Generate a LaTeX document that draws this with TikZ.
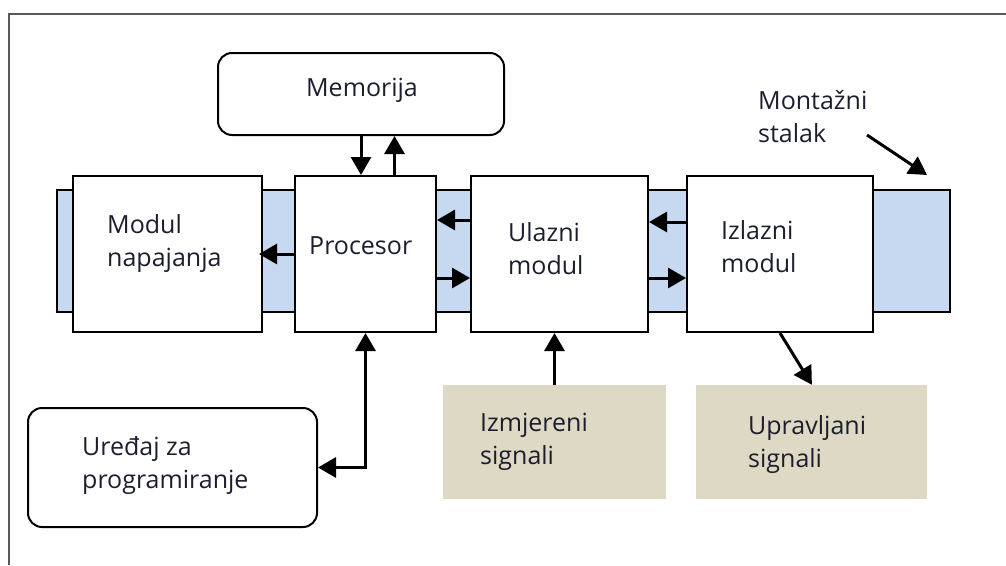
\documentclass[tikz,border=0pt]{standalone}
\usepackage{fontspec}
\setmainfont{Open Sans}
\usetikzlibrary{positioning,arrows.meta}

\definecolor{rackblue}{RGB}{198,217,240}
\definecolor{signaltan}{RGB}{221,217,196}
\definecolor{textcol}{RGB}{28,30,45}

\begin{document}
\begin{tikzpicture}[%
    x=1pt, y=-1pt,
    module/.style={%
        draw,
        line width=2pt,
        fill=white,
        minimum height=156pt,
        inner sep=0pt
    },
    rack/.style={%
        draw,
        line width=2pt,
        fill=rackblue,
        minimum width=893pt,
        minimum height=122pt
    },
    unit/.style={%
        draw,
        line width=2pt,
        rounded corners=14pt,
        inner sep=0pt
    },
    signal/.style={%
        fill=signaltan,
        minimum height=114pt,
        inner sep=0pt
    },
    lbl/.style={%
        font=\fontsize{25}{33}\selectfont,
        text=textcol,
        align=left,
        inner sep=0pt
    },
    link/.style={line width=3pt, ->},
    >={Triangle[length=18pt,width=20pt]}
]
\useasboundingbox (0,0) rectangle (1006,565);

% Frame
\draw[line width=1.2pt, black!65] (9,565) -- (9,14) -- (1006,14);

% Mounting rack
\node[rack] (stalak) at (503.5,251) {};

% Modules on the rack
\node[module, minimum width=189pt] (napajanja) at (167.5,254) {};
\node[module, minimum width=141pt, right=31pt of napajanja] (procesor) {};
\node[module, minimum width=177pt, right=33pt of procesor] (ulazni) {};
\node[module, minimum width=186pt, right=37pt of ulazni] (izlazni) {};

% Memory and programming device
\node[unit, minimum width=286pt, minimum height=82pt] (memorija) at (361,94) {};
\node[unit, minimum width=289pt, minimum height=119pt] (uredjaj) at (172.5,467.5) {};

% Field signals
\node[signal, minimum width=223pt] (izmjereni) at (554.5,442) {};
\node[signal, minimum width=231pt, right=30pt of izmjereni] (upravljani) {};

% Texts
\node[lbl] (t-memorija) at (362,90) {Memorija};
\node[lbl, anchor=west] (t-napajanja) at (107,244) {Modul\\napajanja};
\node[lbl, anchor=west] (t-procesor) at (309,246) {Procesor};
\node[lbl, anchor=west] (t-ulazni) at (508,249) {Ulazni\\modul};
\node[lbl, anchor=west] (t-izlazni) at (721,247) {Izlazni\\modul};
\node[lbl, anchor=west] (t-uredjaj) at (82,465) {Uređaj za\\programiranje};
\node[lbl, anchor=west] (t-izmjereni) at (480,442) {Izmjereni\\signali};
\node[lbl, anchor=west] (t-upravljani) at (748,444) {Upravljani\\signali};
\node[lbl, anchor=west] (t-stalak) at (758,117) {Montažni\\stalak};

% Arrows
\draw[link] (memorija.south) -- (memorija.south |- procesor.north);
\draw[link] ([xshift=29pt]procesor.north) -- ([xshift=29pt]procesor.north |- memorija.south);

\draw[link] (procesor.west) -- ([xshift=-4pt]napajanja.east);
\draw[link] ([yshift=34pt]ulazni.west) -- ([yshift=34pt]procesor.east);
\draw[link] ([yshift=-24pt]procesor.east) -- ([yshift=-24pt]ulazni.west);
\draw[link] ([yshift=32pt]izlazni.west) -- ([yshift=32pt]ulazni.east);
\draw[link] ([yshift=-24pt]ulazni.east) -- ([yshift=-24pt]izlazni.west);

\draw[link, <->] (procesor.south) |- (uredjaj.east);
\draw[link] (izmjereni.north) -- (izmjereni.north |- ulazni.south);
\draw[link] (izlazni.south) -- (upravljani.north);

\coordinate (stalak-from) at (867,135);
\coordinate (stalak-to) at (927,175);
\draw[link] (stalak-from) -- (stalak-to);

\end{tikzpicture}
\end{document}
